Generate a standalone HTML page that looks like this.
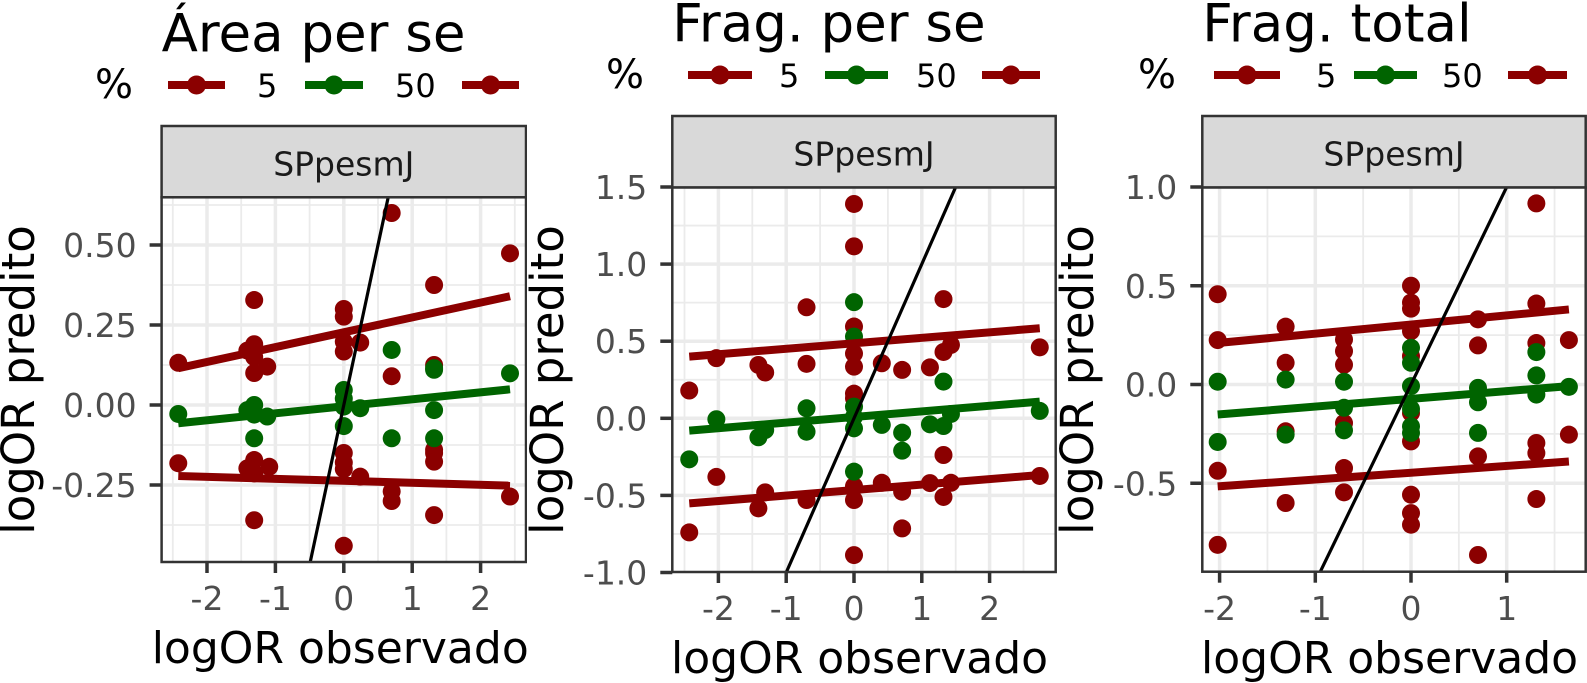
<!DOCTYPE html>
<html><head><meta charset="utf-8"><style>
html,body{margin:0;padding:0;background:#fff;overflow:hidden;width:1587px;height:683px;}
svg{display:block;font-family:"DejaVu Sans","Liberation Sans",sans-serif;}
</style></head><body>
<svg id="chart" width="1587" height="683" viewBox="0 0 1587 683" xmlns="http://www.w3.org/2000/svg"></svg>
<script>
// ---- Panel 1: Área per se ----
const p1RedHiX=[-2.42,-1.31,-1.31,-1.41,-1.31,-1.31,-1.12,0,0,0,0,0.24,0.70,0.70,1.32,1.32,2.43];
const p1RedHiY=[0.132,0.328,0.19,0.17,0.15,0.10,0.12,0.30,0.276,0.198,0.167,0.195,0.60,0.09,0.375,0.125,0.474];
const p1RedLoX=[-2.42,-1.31,-1.41,-1.31,-1.09,-1.31,0,0,0,0.24,0.70,0.70,1.32,1.32,1.32,1.32,2.43,0];
const p1RedLoY=[-0.182,-0.172,-0.198,-0.214,-0.193,-0.36,-0.15,-0.18,-0.20,-0.224,-0.27,-0.30,-0.14,-0.15,-0.177,-0.344,-0.286,-0.44];
const p1GreenX=[-2.42,-1.31,-1.41,-1.31,-1.12,-1.31,0,0,0,0,0.24,0.70,0.70,1.32,1.32,1.32,1.32,2.43];
const p1GreenY=[-0.028,0,-0.016,-0.03,-0.036,-0.104,0.047,0.02,-0.005,-0.066,-0.01,0.172,-0.104,0.115,0.11,-0.016,-0.104,0.099];
const p1FitX=[-2.42,2.43];
const p1FitRedHi=[0.115,0.34];
const p1FitGreen=[-0.057,0.049];
const p1FitRedLo=[-0.222,-0.252];
const p1XTicks=[-2,-1,0,1,2];
const p1XLabels=["-2","-1","0","1","2"];
const p1YTicks=[-0.25,0,0.25,0.5];
const p1YLabels=["-0.25","0.00","0.25","0.50"];
// ---- Panel 2: Frag. per se ----
const p2RedX=[-2.43,-2.43,-2.03,-2.03,-1.41,-1.31,-1.41,-1.31,-0.70,-0.70,-0.70,0,0,0,0,0,0,0,0,0,0,0.41,0.41,0.71,0.71,0.71,1.12,1.12,1.32,1.32,1.43,1.32,1.32,1.43,2.74,2.74];
const p2RedY=[0.18,-0.74,0.39,-0.38,0.346,0.297,-0.584,-0.48,0.72,0.353,-0.53,1.39,1.115,0.595,0.42,0.335,0.16,0.13,-0.44,-0.53,-0.887,0.357,-0.418,0.314,-0.476,-0.714,0.33,-0.42,0.773,0.43,0.476,-0.238,-0.51,-0.418,0.46,-0.374];
const p2GreenX=[-2.43,-2.03,-1.41,-1.31,-0.70,-0.70,0,0,0,0,0,0,0.41,0.71,0.71,1.12,1.32,1.32,1.43,2.74];
const p2GreenY=[-0.266,-0.006,-0.123,-0.076,0.065,-0.087,0.753,0.53,0.076,0.01,-0.065,-0.346,-0.043,-0.093,-0.21,-0.039,0.238,-0.05,0.028,0.048];
const p2FitX=[-2.43,2.74];
const p2FitRedHi=[0.40,0.584];
const p2FitGreen=[-0.08,0.108];
const p2FitRedLo=[-0.552,-0.368];
const p2XTicks=[-2,-1,0,1,2];
const p2XLabels=["-2","-1","0","1","2"];
const p2YTicks=[-1,-0.5,0,0.5,1,1.5];
const p2YLabels=["-1.0","-0.5","0.0","0.5","1.0","1.5"];
// ---- Panel 3: Frag. total ----
const p3RedX=[-2.02,-2.02,-2.02,-2.02,-1.31,-1.31,-1.31,-1.31,-0.70,-0.70,-0.70,-0.70,-0.70,-0.70,0,0,0,0,0,0,0,0,0,0,0.70,0.70,0.70,0.70,1.31,1.31,1.31,1.31,1.31,1.31,1.65,1.65];
const p3RedY=[0.457,0.225,-0.437,-0.812,0.293,0.11,-0.237,-0.60,0.228,0.169,0.10,-0.195,-0.423,-0.546,0.5,0.415,0.384,0.27,0.144,-0.144,-0.288,-0.558,-0.651,-0.71,0.33,0.198,-0.364,-0.863,0.917,0.41,0.21,-0.296,-0.347,-0.58,0.225,-0.254];
const p3GreenX=[-2.02,-2.02,-1.31,-1.31,-0.70,-0.70,-0.70,0,0,0,0,0,0,0.70,0.70,0.70,1.31,1.31,1.31,1.65];
const p3GreenY=[0.014,-0.291,0.025,-0.254,0.014,-0.118,-0.232,0.186,0.11,-0.008,-0.124,-0.212,-0.245,-0.017,-0.09,-0.245,0.164,0.046,-0.051,-0.012];
const p3FitX=[-2.02,1.65];
const p3FitRedHi=[0.21,0.38];
const p3FitGreen=[-0.152,-0.008];
const p3FitRedLo=[-0.516,-0.39];
const p3XTicks=[-2,-1,0,1];
const p3XLabels=["-2","-1","0","1"];
const p3YTicks=[-0.5,0,0.5,1];
const p3YLabels=["-0.5","0.0","0.5","1.0"];

const NS="http://www.w3.org/2000/svg";
const svg=document.getElementById('chart');
const RED="#8b0000", GREEN="#006400";
function mk(tag,attrs,parent){const e=document.createElementNS(NS,tag);for(const k in attrs)e.setAttribute(k,attrs[k]);(parent||svg).appendChild(e);return e;}

const panels=[
 {title:"Área per se",clip:[0,527],L:161.6,R:526,T:197.3,B:562,sT:126,x0:343.8,xs:68.4,y0:405,ys:320,
  xMinor:[-2.5,-1.5,-0.5,0.5,1.5,2.5],yMinor:[-0.375,-0.125,0.125,0.375,0.625],
  xt:p1XTicks,xl:p1XLabels,yt:p1YTicks,yl:p1YLabels,
  series:[[p1RedHiX,p1RedHiY,RED],[p1RedLoX,p1RedLoY,RED],[p1GreenX,p1GreenY,GREEN]],
  fitX:p1FitX,fits:[[p1FitRedHi,RED],[p1FitGreen,GREEN],[p1FitRedLo,RED]],
  titleY:51.7,legY:85,leg:{pct:95,r1:[168,225],t5:257,g:[305,363],t50:395,r2:[462,519]},
  xTitleX:151.7,xTitleY:663,xLabY:610,yTitleX:34},
 {title:"Frag. per se",clip:[527,1058],L:672.3,R:1055.7,T:187.5,B:572,sT:116,x0:854,xs:67.8,y0:418.3,ys:154.2,
  xMinor:[-2.5,-1.5,-0.5,0.5,1.5,2.5],yMinor:[-0.75,-0.25,0.25,0.75,1.25],
  xt:p2XTicks,xl:p2XLabels,yt:p2YTicks,yl:p2YLabels,
  series:[[p2RedX,p2RedY,RED],[p2GreenX,p2GreenY,GREEN]],
  fitX:p2FitX,fits:[[p2FitRedHi,RED],[p2FitGreen,GREEN],[p2FitRedLo,RED]],
  titleY:41.7,legY:75,leg:{pct:606,r1:[688,752],t5:779,g:[825,888],t50:916,r2:[982,1040]},
  xTitleX:671,xTitleY:673,xLabY:620,yTitleX:563},
 {title:"Frag. total",clip:[1058,1587],L:1202.3,R:1585.7,T:187.5,B:571.7,sT:116,x0:1411,xs:95.7,y0:384.5,ys:197.5,
  xMinor:[-1.5,-0.5,0.5,1.5],yMinor:[-0.75,-0.25,0.25,0.75],
  xt:p3XTicks,xl:p3XLabels,yt:p3YTicks,yl:p3YLabels,
  series:[[p3RedX,p3RedY,RED],[p3GreenX,p3GreenY,GREEN]],
  fitX:p3FitX,fits:[[p3FitRedHi,RED],[p3FitGreen,GREEN],[p3FitRedLo,RED]],
  titleY:41.7,legY:75,leg:{pct:1138,r1:[1214,1280],t5:1316,g:[1354,1417],t50:1442,r2:[1508,1567]},
  xTitleX:1201,xTitleY:673,xLabY:620,yTitleX:1093}
];

const defs=mk('defs',{});
panels.forEach((p,i)=>{
  const cp=mk('clipPath',{id:'col'+i},defs);
  mk('rect',{x:p.clip[0],y:0,width:p.clip[1]-p.clip[0],height:683},cp);
  const pc=mk('clipPath',{id:'plot'+i},defs);
  mk('rect',{x:p.L,y:p.T,width:p.R-p.L,height:p.B-p.T},pc);
});

panels.forEach((p,i)=>{
  const X=v=>p.x0+p.xs*v, Y=v=>p.y0-p.ys*v;
  const g=mk('g',{'clip-path':'url(#col'+i+')'});
  
  
  const t=mk('text',{x:p.L,y:p.titleY,'font-size':53,fill:'#000'},g);
  t.textContent=p.title;
  
  
  const lg=mk('g',{},g);
  
  
  const pt=mk('text',{x:p.leg.pct,y:p.legY+13,'font-size':40},lg);pt.textContent='%';
  
  
  [[p.leg.r1,RED],[p.leg.g,GREEN],[p.leg.r2,RED]].forEach(([r,c])=>{
    const e=mk('g',{},lg);
    
    
    mk('line',{x1:r[0],x2:r[1],y1:p.legY,y2:p.legY,stroke:c,'stroke-width':8},e);
    mk('circle',{cx:(r[0]+r[1])/2,cy:p.legY,r:9.5,fill:c},e);
  });
  const t5=mk('text',{x:p.leg.t5,y:p.legY+12,'font-size':32},lg);t5.textContent='5';
  
  
  const t50=mk('text',{x:p.leg.t50,y:p.legY+12,'font-size':32},lg);t50.textContent='50';
  
  
  const st=mk('rect',{x:p.L,y:p.sT,width:p.R-p.L,height:p.T-p.sT,fill:'#d9d9d9',stroke:'#333','stroke-width':2.5},g);
  
  
  const stt=mk('text',{x:(p.L+p.R)/2,y:p.T-22,'font-size':33,fill:'#1a1a1a','text-anchor':'middle'},g);
  stt.textContent='SPpesmJ';
  
  
  const pl=mk('g',{'clip-path':'url(#plot'+i+')'},g);
  
  
  mk('rect',{x:p.L,y:p.T,width:p.R-p.L,height:p.B-p.T,fill:'#fff'},pl);
  p.xMinor.forEach(v=>mk('line',{x1:X(v),x2:X(v),y1:p.T,y2:p.B,stroke:'#ebebeb','stroke-width':1.8},pl));
  p.yMinor.forEach(v=>mk('line',{x1:p.L,x2:p.R,y1:Y(v),y2:Y(v),stroke:'#ebebeb','stroke-width':1.8},pl));
  p.xt.forEach(v=>mk('line',{x1:X(v),x2:X(v),y1:p.T,y2:p.B,stroke:'#ebebeb','stroke-width':3.5},pl));
  p.yt.forEach(v=>mk('line',{x1:p.L,x2:p.R,y1:Y(v),y2:Y(v),stroke:'#ebebeb','stroke-width':3.5},pl));
  p.series.forEach(([xs,ys,c])=>{
    xs.forEach((xv,k)=>{
      const cc=mk('circle',{cx:X(xv),cy:Y(ys[k]),r:9,fill:c},pl);
      
      
    });
  });
  p.fits.forEach(([ys,c])=>{
    const ln=mk('line',{x1:X(p.fitX[0]),y1:Y(ys[0]),x2:X(p.fitX[1]),y2:Y(ys[1]),stroke:c,'stroke-width':8},pl);
    
    
  });
  const lo=-5, hi=5;
  const id=mk('line',{x1:X(lo),y1:Y(lo),x2:X(hi),y2:Y(hi),stroke:'#000','stroke-width':3.2},pl);
  
  
  const bd=mk('rect',{x:p.L,y:p.T,width:p.R-p.L,height:p.B-p.T,fill:'none',stroke:'#333','stroke-width':2.5},g);
  
  
  p.xt.forEach((v,k)=>{
    mk('line',{x1:X(v),x2:X(v),y1:p.B,y2:p.B+11,stroke:'#333','stroke-width':3.5},g);
    const tl=mk('text',{x:X(v),y:p.xLabY,'font-size':33,fill:'#4d4d4d','text-anchor':'middle'},g);
    tl.textContent=p.xl[k];
    
    
  });
  p.yt.forEach((v,k)=>{
    mk('line',{x1:p.L-12,x2:p.L,y1:Y(v),y2:Y(v),stroke:'#333','stroke-width':3.5},g);
    const tl=mk('text',{x:p.L-25,y:Y(v)+12,'font-size':33,fill:'#4d4d4d','text-anchor':'end'},g);
    tl.textContent=p.yl[k];
    
    
  });
  const xt=mk('text',{x:p.xTitleX,y:p.xTitleY,'font-size':44},g);
  xt.textContent='logOR observado';
  
  
  const cy=380;
  const yt=mk('text',{x:p.yTitleX,y:cy,'font-size':45,'text-anchor':'middle',transform:`rotate(-90 ${p.yTitleX} ${cy})`},g);
  yt.textContent='logOR predito';
  
  
});
</script>
</body></html>
